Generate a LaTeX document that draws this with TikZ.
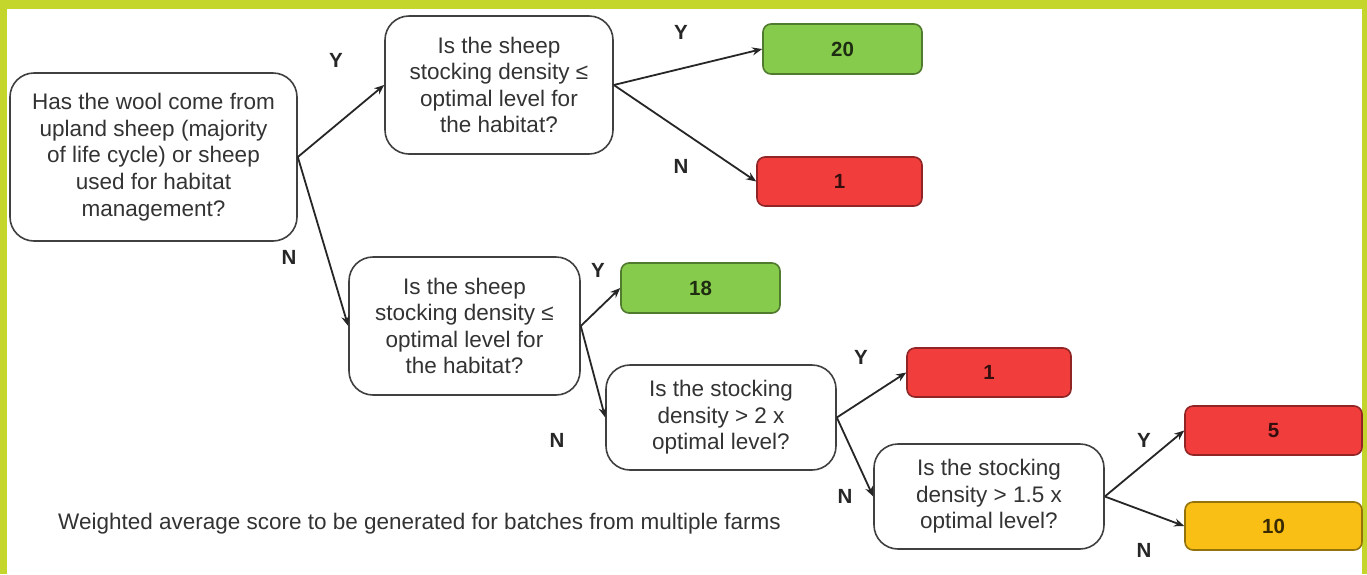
\documentclass[tikz,border=0pt]{standalone}
\usepackage{fontspec}
\setmainfont{Liberation Sans}
\usetikzlibrary{arrows.meta}
\definecolor{frame}{HTML}{C4D52B}
\definecolor{okgreen}{HTML}{86CB4C}
\definecolor{badred}{HTML}{F23D3D}
\definecolor{midgold}{HTML}{F9BF14}
\definecolor{ink}{HTML}{333333}
\tikzset{
  question/.style={draw=black!75, line width=1.6pt, rounded corners=24pt, fill=white,
    align=center, text=ink, font=\fontsize{22.5}{26.6}\selectfont, inner sep=0pt},
  score/.style={draw=#1!60!black, line width=1.6pt, rounded corners=8pt, fill=#1,
    text=#1!22!black, font=\fontsize{20.5}{24}\selectfont\bfseries, inner sep=0pt},
  yn/.style={text=black!85, font=\fontsize{20.5}{24}\selectfont\bfseries, inner sep=0pt}
}
\begin{document}
\begin{tikzpicture}[x=1pt,y=-1pt]
  \useasboundingbox (0,0) rectangle (1367,574);
  \fill[white] (0,0) rectangle (1367,574);
  \fill[frame] (0,0) rectangle (1367,9);
  \fill[frame] (0,0) rectangle (7,574);
  \fill[frame] (1362,0) rectangle (1367,574);
  \draw
    (153.5,157) node[question, minimum width=287pt, minimum height=168pt] (q1)
      {Has the wool come from\\upland sheep (majority\\of life cycle) or sheep\\used for habitat\\management?}
    (499,85) node[question, minimum width=228pt, minimum height=138pt] (q2)
      {Is the sheep\\stocking density ≤\\optimal level for\\the habitat?}
    (464.5,326) node[question, minimum width=231pt, minimum height=138pt] (q3)
      {Is the sheep\\stocking density ≤\\optimal level for\\the habitat?}
    (721,417.5) node[question, minimum width=230pt, minimum height=105pt] (q4)
      {Is the stocking\\density > 2 x\\optimal level?}
    (989,496.5) node[question, minimum width=230pt, minimum height=105pt] (q5)
      {Is the stocking\\density > 1.5 x\\optimal level?}
    (842.5,49) node[score=okgreen, minimum width=159pt, minimum height=50pt] (r20) {20}
    (839.5,181.5) node[score=badred, minimum width=165pt, minimum height=49pt] (r1a) {1}
    (700.5,288) node[score=okgreen, minimum width=159pt, minimum height=50pt] (r18) {18}
    (989,372.5) node[score=badred, minimum width=164pt, minimum height=49pt] (r1b) {1}
    (1273.5,430.5) node[score=badred, minimum width=177pt, minimum height=49pt] (r5) {5}
    (1273.5,526) node[score=midgold, minimum width=177pt, minimum height=48pt] (r10) {10};
  \draw
    (336,60) node[yn] (y1) {Y}
    (289,257) node[yn] (n1) {N}
    (681,32) node[yn] (y2) {Y}
    (681,166) node[yn] (n2) {N}
    (598,270) node[yn] (y3) {Y}
    (557,440) node[yn] (n3) {N}
    (861,357) node[yn] (y4) {Y}
    (845,496) node[yn] (n4) {N}
    (1144,440) node[yn] (y5) {Y}
    (1144,550) node[yn] (n5) {N};
  \node[anchor=west, text=ink, font=\fontsize{22.5}{26}\selectfont, inner sep=0pt] (note) at (58,524)
    {Weighted average score to be generated for batches from multiple farms};
  \begin{scope}[-{Stealth[length=10pt,width=8pt]}, line width=1.8pt, black!85]
    \draw (q1.east) to (q2.west);
    \draw (q1.east) to (q3.west);
    \draw (q2.east) to (r20.west);
    \draw (q2.east) to (r1a.west);
    \draw (q3.east) to (r18.west);
    \draw (q3.east) to (q4.west);
    \draw (q4.east) to (r1b.west);
    \draw (q4.east) to (q5.west);
    \draw (q5.east) to (r5.west);
    \draw (q5.east) to (r10.west);
  \end{scope}
\end{tikzpicture}
\end{document}
